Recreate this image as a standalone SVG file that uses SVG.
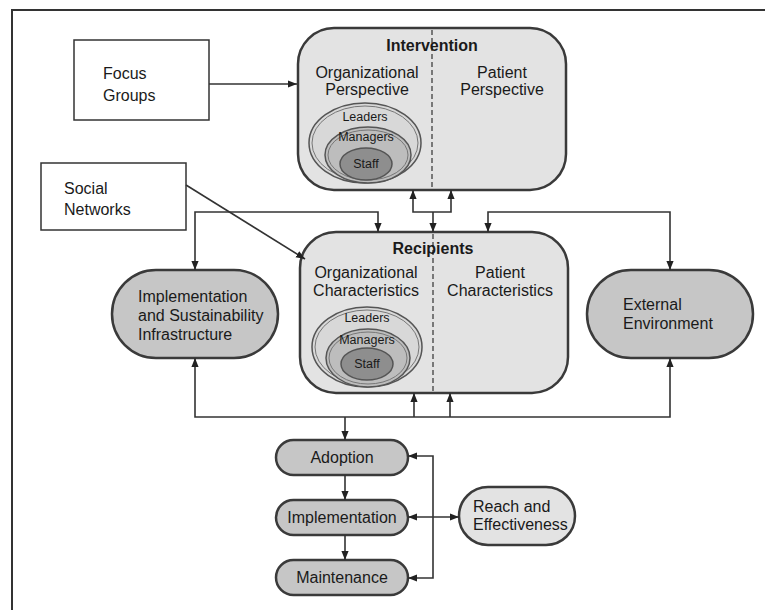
<svg xmlns="http://www.w3.org/2000/svg" width="765" height="610" viewBox="0 0 765 610">
<style>
  text { font-family: "Liberation Sans", Arial, sans-serif; fill: #1a1a1a; }
  .t16 { font-size: 16px; }
  .b16 { font-size: 16px; font-weight: bold; }
  .s12 { font-size: 12.5px; }
  .rect { fill: #ffffff; stroke: #333333; stroke-width: 1.5; }
  .big { fill: #e3e3e3; stroke: #3a3a3a; stroke-width: 2.5; }
  .pill { fill: #c6c6c6; stroke: #3a3a3a; stroke-width: 2.5; }
  .pillL { fill: #e3e3e3; stroke: #3a3a3a; stroke-width: 2.5; }
  .div { stroke: #555555; stroke-width: 1.5; stroke-dasharray: 5 3; fill: none; }
  .e1 { fill: #d8d8d8; stroke: #555555; stroke-width: 1.5; }
  .e2 { fill: #bdbdbd; stroke: #555555; stroke-width: 1.5; }
  .e3 { fill: #8e8e8e; stroke: #555555; stroke-width: 1.5; }
  .ring { fill: none; stroke: #777777; stroke-width: 1; }
  .c { fill: none; stroke: #333333; stroke-width: 1.6; }
  .frame { stroke: #333333; stroke-width: 2; fill: none; }
</style>
<defs>
  <marker id="ah" viewBox="0 0 10 10" refX="10" refY="5" markerUnits="userSpaceOnUse" markerWidth="9" markerHeight="9" orient="auto-start-reverse">
    <path d="M0,1 L10,5 L0,9 Z" fill="#222222"/>
  </marker>
</defs>

<path class="frame" d="M12,610 V10 H765"/>

<g id="focus-groups">
  <rect class="rect" x="74" y="40" width="135" height="80"/>
  <text class="t16" x="103" y="79">Focus</text>
  <text class="t16" x="103" y="101">Groups</text>
</g>

<g id="social-networks">
  <rect class="rect" x="41" y="163" width="145" height="67"/>
  <text class="t16" x="64" y="194">Social</text>
  <text class="t16" x="64" y="215">Networks</text>
</g>

<g id="intervention">
  <rect class="big" x="298" y="28" width="268" height="162" rx="36" ry="36"/>
  <line class="div" x1="432" y1="30" x2="432" y2="189"/>
  <text class="b16" x="432" y="51" text-anchor="middle">Intervention</text>
  <text class="t16" x="367" y="78" text-anchor="middle">Organizational</text>
  <text class="t16" x="367" y="95" text-anchor="middle">Perspective</text>
  <text class="t16" x="502" y="78" text-anchor="middle">Patient</text>
  <text class="t16" x="502" y="95" text-anchor="middle">Perspective</text>
  <ellipse class="e1" cx="365" cy="143" rx="56" ry="40"/>
  <ellipse class="ring" cx="365" cy="143" rx="53" ry="37"/>
  <ellipse class="e2" cx="368" cy="155" rx="43" ry="28"/>
  <ellipse class="ring" cx="368" cy="155" rx="40" ry="25"/>
  <ellipse class="e3" cx="366" cy="164" rx="26" ry="16"/>
  <text class="s12" x="365" y="121" text-anchor="middle">Leaders</text>
  <text class="s12" x="366" y="141" text-anchor="middle">Managers</text>
  <text class="s12" x="366" y="168" text-anchor="middle">Staff</text>
</g>

<g id="recipients">
  <rect class="big" x="300" y="232" width="268" height="161" rx="36" ry="36"/>
  <line class="div" x1="433" y1="234" x2="433" y2="392"/>
  <text class="b16" x="433" y="254" text-anchor="middle">Recipients</text>
  <text class="t16" x="366" y="278" text-anchor="middle">Organizational</text>
  <text class="t16" x="366" y="296" text-anchor="middle">Characteristics</text>
  <text class="t16" x="500" y="278" text-anchor="middle">Patient</text>
  <text class="t16" x="500" y="296" text-anchor="middle">Characteristics</text>
  <ellipse class="e1" cx="367" cy="347" rx="55" ry="40"/>
  <ellipse class="ring" cx="367" cy="347" rx="52" ry="37"/>
  <ellipse class="e2" cx="368" cy="358" rx="42" ry="29"/>
  <ellipse class="ring" cx="368" cy="358" rx="39" ry="26"/>
  <ellipse class="e3" cx="367" cy="364" rx="26" ry="16"/>
  <text class="s12" x="367" y="322" text-anchor="middle">Leaders</text>
  <text class="s12" x="367" y="344" text-anchor="middle">Managers</text>
  <text class="s12" x="367" y="368" text-anchor="middle">Staff</text>
</g>

<g id="infrastructure">
  <rect class="pill" x="112" y="270" width="166" height="88" rx="44" ry="44"/>
  <text class="t16" x="138" y="302">Implementation</text>
  <text class="t16" x="138" y="321">and Sustainability</text>
  <text class="t16" x="138" y="340">Infrastructure</text>
</g>

<g id="external-environment">
  <rect class="pill" x="587" y="270" width="166" height="88" rx="44" ry="44"/>
  <text class="t16" x="623" y="310">External</text>
  <text class="t16" x="623" y="329">Environment</text>
</g>

<g id="adoption">
  <rect class="pill" x="276" y="440" width="132" height="35" rx="17.5" ry="17.5"/>
  <text class="t16" x="342" y="463" text-anchor="middle">Adoption</text>
</g>

<g id="implementation">
  <rect class="pill" x="276" y="500" width="132" height="35" rx="17.5" ry="17.5"/>
  <text class="t16" x="342" y="523" text-anchor="middle">Implementation</text>
</g>

<g id="maintenance">
  <rect class="pill" x="276" y="560" width="132" height="35" rx="17.5" ry="17.5"/>
  <text class="t16" x="342" y="583" text-anchor="middle">Maintenance</text>
</g>

<g id="reach-effectiveness">
  <rect class="pillL" x="459" y="487" width="116" height="58" rx="29" ry="29"/>
  <text class="t16" x="473" y="512">Reach and</text>
  <text class="t16" x="473" y="530">Effectiveness</text>
</g>

<g id="connectors">
  <path class="c" d="M209,84 H297" marker-end="url(#ah)"/>
  <path class="c" d="M186,185 L305,259" marker-end="url(#ah)"/>
  <path class="c" d="M195,270 V212 H378 V232" marker-start="url(#ah)" marker-end="url(#ah)"/>
  <path class="c" d="M413,190 V212 H451 V190" marker-start="url(#ah)" marker-end="url(#ah)"/>
  <path class="c" d="M433,212 V232" marker-end="url(#ah)"/>
  <path class="c" d="M488,232 V212 H670 V270" marker-start="url(#ah)" marker-end="url(#ah)"/>
  <path class="c" d="M195,358 V417 H670 V358" marker-start="url(#ah)" marker-end="url(#ah)"/>
  <path class="c" d="M414,417 V393" marker-end="url(#ah)"/>
  <path class="c" d="M450,417 V393" marker-end="url(#ah)"/>
  <path class="c" d="M345,417 V440" marker-end="url(#ah)"/>
  <path class="c" d="M345,475 V500" marker-end="url(#ah)"/>
  <path class="c" d="M345,535 V560" marker-end="url(#ah)"/>
  <path class="c" d="M408,456 H433 V578 H408" marker-start="url(#ah)" marker-end="url(#ah)"/>
  <path class="c" d="M408,517 H459" marker-start="url(#ah)" marker-end="url(#ah)"/>
</g>
</svg>
